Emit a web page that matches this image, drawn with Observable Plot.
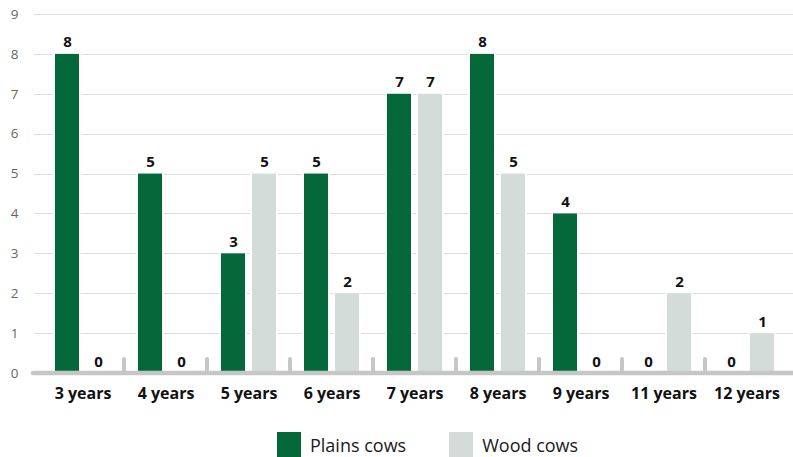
<!DOCTYPE html>
<html><head><meta charset="utf-8">
<script src="https://cdn.jsdelivr.net/npm/d3@7"></script>
<script src="https://cdn.jsdelivr.net/npm/@observablehq/plot@0.6"></script>
<style>
body{margin:0;background:#fff;font-family:"Open Sans",sans-serif;}
#legend{display:flex;align-items:center;margin-left:277px;margin-top:12px;font-size:18px;color:#1a1a1a;line-height:26px;}
.item{display:flex;align-items:center;margin-right:43px;}
.sw{width:24px;height:26px;margin-right:9px;}
</style></head><body><div id="chart"></div><div id="legend"></div>
<script>
const groups = ["3 years","4 years","5 years","6 years","7 years","8 years","9 years","11 years","12 years"];
const plainsCows = [8,5,3,5,7,8,4,0,0];
const woodCows = [0,0,5,2,7,5,0,2,1];
const series = ["Plains cows","Wood cows"];
const colors = ["#05683a","#d3dcd8"];
const yTicks = [0,1,2,3,4,5,6,7,8,9];

const rows = groups.flatMap((g,i)=>[
  {group:g, series:series[0], value:plainsCows[i]},
  {group:g, series:series[1], value:woodCows[i]}
]);

const chart = Plot.plot({
  width:793, height:420, marginLeft:40, marginRight:3.5, marginTop:14, marginBottom:47,
  style:{fontFamily:"Open Sans", background:"white", overflow:"visible"},
  fx:{domain:groups, padding:0, label:null},
  x:{domain:series, paddingInner:0.226, paddingOuter:0.4516, axis:null},
  y:{domain:[0,9], label:null},
  color:{domain:series, range:colors},
  marks:[
    Plot.barY(rows, {fx:"group", x:"series", y:"value", fill:"white", insetLeft:-2, insetRight:-2}),
    Plot.barY(rows, {fx:"group", x:"series", y:"value", fill:"series"}),
    Plot.text(rows, {fx:"group", x:"series", y:"value", text:d=>String(d.value), lineAnchor:"bottom", dy:-7, fontWeight:"bold", fontSize:15, fill:"#111"}),
    Plot.axisY({ticks:yTicks, tickSize:0, tickPadding:23, fontSize:13.5, color:"#666", label:null, tickFormat:d=>String(d)}),
    Plot.axisFx({anchor:"bottom", tickSize:0, tickPadding:14, fontSize:16, fontWeight:"bold", color:"#111", label:null})
  ]
});
document.getElementById("chart").appendChild(chart);

const yS = chart.scale("y"), fxS = chart.scale("fx");
const bw = fxS.bandwidth ?? (fxS.range[1]-fxS.range[0])/fxS.domain.length;
const sel = d3.select(chart);
const grid = sel.insert("g", ":first-child");
yTicks.filter(t=>t>0).forEach(t=>{
  const y = Math.round(yS.apply(t))+0.5;
  grid.append("line").attr("x1",34).attr("x2",793).attr("y1",y).attr("y2",y).attr("stroke","#dcdcdc").attr("stroke-width",1);
});
const y0 = yS.apply(0);
const deco = sel.append("g").attr("stroke","#c6c6c6").attr("stroke-linecap","round");
deco.append("line").attr("x1",33).attr("x2",795).attr("y1",y0).attr("y2",y0).attr("stroke-width",4.5);
groups.slice(0,-1).forEach(g=>{
  const x = fxS.apply(g)+bw;
  deco.append("line").attr("x1",x).attr("x2",x).attr("y1",y0-14).attr("y2",y0).attr("stroke-width",4);
});

const legend = d3.select("#legend");
series.forEach((s,i)=>{
  const it = legend.append("div").attr("class","item");
  it.append("div").attr("class","sw").style("background",colors[i]);
  it.append("span").text(s);
});
</script></body></html>
